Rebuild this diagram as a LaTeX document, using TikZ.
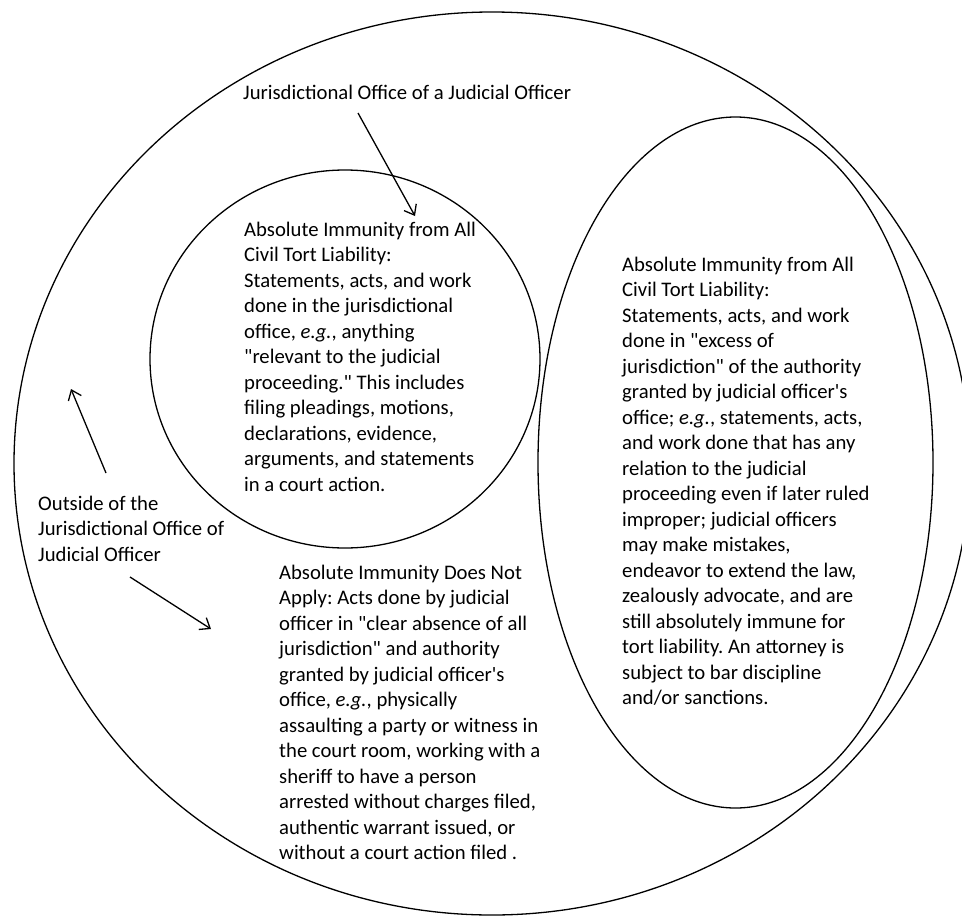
\documentclass[tikz,border=0pt]{standalone}
\usepackage{fontspec}
\setmainfont{Carlito}[Ligatures=TeXOff]
\usetikzlibrary{arrows.meta}
\frenchspacing
\begin{document}
\begin{tikzpicture}[x=1pt,y=-1pt,
  ring/.style={line width=1.3pt,black},
  lbl/.style={anchor=base west,inner sep=0pt,align=left,font=\fontsize{20.7}{25.5}\selectfont\frenchspacing},
  arr/.style={line width=1.3pt,-{Straight Barb[length=9pt,width=14pt,line width=1.3pt]}}]
\useasboundingbox[fill=white] (0,0) rectangle (962,916);
\begin{scope}
\clip (0,0) rectangle (962,916);
% ellipses
\draw[ring] (492,463.5) ellipse [x radius=478pt,y radius=451.5pt];
\draw[ring] (345,359) ellipse [x radius=195pt,y radius=189pt];
\draw[ring] (735.5,462.5) ellipse [x radius=197.5pt,y radius=345.5pt];
\end{scope}
% texts (anchored at the baseline of the last line)
\node[lbl] (title) at (243,99) {Jurisdictional Office of a Judicial Officer};
\node[lbl] (inner) at (244,491) {Absolute Immunity from All\\Civil Tort Liability:\\Statements, acts, and work\\done in the jurisdictional\\office, \textit{e.g.}, anything\\"relevant to the judicial\\proceeding." This includes\\filing pleadings, motions,\\declarations, evidence,\\arguments, and statements\\in a court action.};
\node[lbl] (excess) at (622,704.5) {Absolute Immunity from All\\Civil Tort Liability:\\Statements, acts, and work\\done in "excess of\\jurisdiction" of the authority\\granted by judicial officer's\\office; \textit{e.g.}, statements, acts,\\and work done that has any\\relation to the judicial\\proceeding even if later ruled\\improper; judicial officers\\may make mistakes,\\endeavor to extend the law,\\zealously advocate, and are\\still absolutely immune for\\tort liability. An attorney is\\subject to bar discipline\\and/or sanctions.};
\node[lbl] (notapply) at (279,859.5) {Absolute Immunity Does Not\\Apply: Acts done by judicial\\officer in "clear absence of all\\jurisdiction" and authority\\granted by judicial officer's\\office, \textit{e.g.}, physically\\assaulting a party or witness in\\the court room, working with a\\sheriff to have a person\\arrested without charges filed,\\authentic warrant issued, or\\without a court action filed .};
\node[lbl] (outside) at (38,561) {Outside of the\\Jurisdictional Office of\\Judicial Officer};
% arrows
\coordinate (a1s) at (358,113);
\coordinate (a1e) at (415,216);
\coordinate (a2s) at (106,473);
\coordinate (a2e) at (71,389);
\coordinate (a3s) at (130,577);
\coordinate (a3e) at (211,629);
\draw[arr] (a1s) -- (a1e);
\draw[arr] (a2s) -- (a2e);
\draw[arr] (a3s) -- (a3e);
\end{tikzpicture}
\end{document}
